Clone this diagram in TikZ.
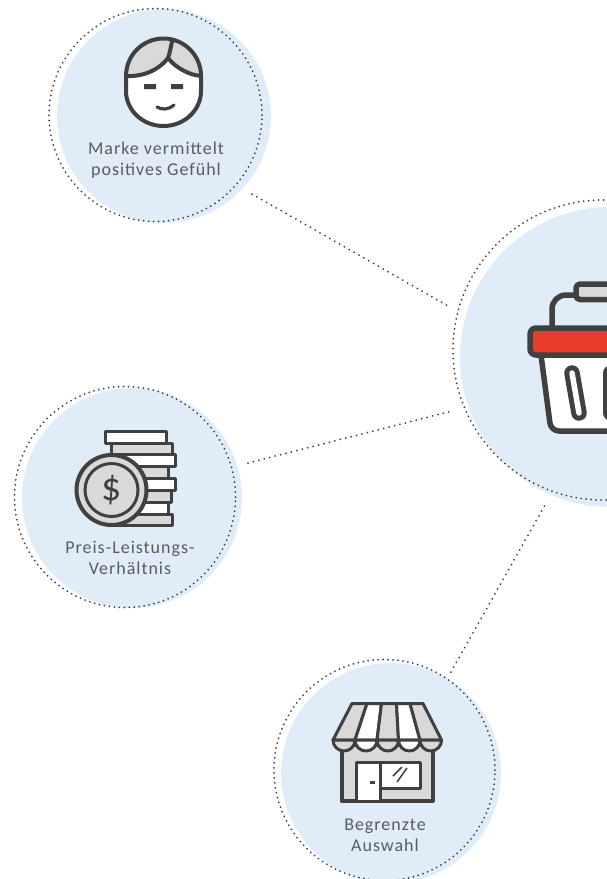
\documentclass[tikz,border=0pt]{standalone}
\usepackage{fontspec}
\usepackage{xcolor}
\setmainfont[LetterSpace=5.5]{Carlito}
\usetikzlibrary{arrows.meta,shapes}
\definecolor{discblue}{HTML}{E1ECF9}
\definecolor{inkgrey}{HTML}{404040}
\definecolor{fillgrey}{HTML}{D9D9D9}
\definecolor{basketred}{HTML}{E83C2D}
\definecolor{labelgrey}{HTML}{5C5C5C}
\tikzset{
disc/.style={shape=circle,fill=discblue,inner sep=0pt,minimum size=#1},
ring/.style={shape=circle,draw=inkgrey,line width=2pt,dash pattern=on 0pt off 5pt,line cap=round,inner sep=0pt,minimum size=#1},
linkdots/.style={draw=inkgrey,line width=2pt,dash pattern=on 0pt off 5.6pt,line cap=round},
icon/.style={draw=inkgrey,line width=4pt,line join=round},
thinicon/.style={draw=inkgrey,line width=3pt,line join=round},
caption/.style={text=labelgrey,font=\fontsize{18}{21}\selectfont,align=center,inner sep=0pt}
}
\begin{document}
\begin{tikzpicture}[x=1pt,y=-1pt]
\useasboundingbox (0,0) rectangle (607,879);
\node[disc=214pt] (faceDisc) at (164,116) {};
\node[ring=213pt] (faceRing) at (155.500,115) {};
\node[disc=220pt] (coinDisc) at (132,498) {};
\node[ring=221pt] (coinRing) at (125,497) {};
\node[disc=220pt] (shopDisc) at (391,773) {};
\node[ring=221pt] (shopRing) at (384.500,770) {};
\node[disc=300pt] (basketDisc) at (610,357) {};
\node[ring=300pt] (basketRing) at (603,350) {};
% links
\coordinate (faceEnd) at (252,194);
\coordinate (coinEnd) at (248,463);
\coordinate (shopEnd) at (451,672);
\coordinate (basketA) at (448,306);
\coordinate (basketB) at (452,411);
\coordinate (basketC) at (545,505);
\draw[linkdots](faceEnd)--(basketA);
\draw[linkdots](coinEnd)--(basketB);
\draw[linkdots](shopEnd)--(basketC);
% face
\fill[white](126,91)--(126,76)arc[start angle=180,end angle=360,radius=37.500]--(201,91)arc[start angle=0,end angle=180,x radius=37.500,y radius=35]--cycle;
\fill[fillgrey](126,76)arc[start angle=180,end angle=360,radius=37.500]..controls (189,75) and (176,68) .. (168,58)..controls (160,69) and (144,77) .. (126,76);
\draw[icon](126,76)..controls (144,77) and (160,69) .. (168,58)..controls (170,52) and (171,47) .. (172,41);
\draw[icon](168,58)..controls (176,68) and (189,75) .. (201,76);
\draw[icon](126,91)--(126,76)arc[start angle=180,end angle=360,radius=37.500]--(201,91)arc[start angle=0,end angle=180,x radius=37.500,y radius=35]--cycle;
\fill[inkgrey](144,84)rectangle(156,89) (171,84)rectangle(183,89);
\draw[thinicon,line width=3.200pt,line cap=round](157,107)..controls (162,110) and (168,110) .. (174,105);
\node[caption] (faceText) at (156,160) {Marke vermittelt\\positives Gefühl};
% coins
\draw[thinicon,fill=white](105.500,431.500)rectangle(166,443);
\draw[thinicon,fill=fillgrey](111,443)rectangle(172,454.500);
\draw[thinicon,fill=white](111,454.500)rectangle(175.500,466);
\draw[thinicon,fill=fillgrey](111,466)rectangle(168,478);
\draw[thinicon,fill=white](111,478)rectangle(175,490);
\draw[thinicon,fill=fillgrey](111,490)rectangle(171,502);
\draw[thinicon,fill=white](111,502)rectangle(168,514);
\draw[thinicon,fill=fillgrey](111,514)rectangle(172,525);
\node[shape=circle,fill=fillgrey,draw=inkgrey,line width=4pt,inner sep=0pt,minimum size=70pt] (coinOuter) at (111.500,490) {};
\node[shape=circle,draw=inkgrey,line width=3pt,inner sep=0pt,minimum size=53pt,text=inkgrey,font=\fontsize{40}{40}\selectfont] (coinInner) at (coinOuter) {\$};
\node[caption] (coinText) at (130,557.500) {Preis-Leistungs-\\Verhältnis};
% shop
\draw[icon,fill=fillgrey](342,745)rectangle(433,801);
\draw[thinicon,fill=white](356,762.500)rectangle(380,801);
\draw[thinicon,fill=white](380,762.500)rectangle(420,788);
\fill[inkgrey](370,781)rectangle(375,784);
\draw[draw=inkgrey,line width=1.500pt](393,776)--(402,767) (397,782)--(407,768);
\draw[thinicon,fill=fillgrey](333,740)--(352,703.500)--(367,703.500)--(355,740)--cycle;
\draw[thinicon,fill=white](355,740)--(367,703.500)--(381.500,703.500)--(377,740)--cycle;
\draw[thinicon,fill=fillgrey](377,740)--(381.500,703.500)--(396.500,703.500)--(398.500,740)--cycle;
\draw[thinicon,fill=white](398.500,740)--(396.500,703.500)--(410,703.500)--(420,740)--cycle;
\draw[thinicon,fill=fillgrey](420,740)--(410,703.500)--(423,703.500)--(441.500,740)--cycle;
\draw[thinicon,fill=fillgrey](333,740)arc[start angle=180,end angle=360,x radius=11,y radius=-11]--cycle;
\draw[thinicon,fill=white](355,740)arc[start angle=180,end angle=360,x radius=11,y radius=-11]--cycle;
\draw[thinicon,fill=fillgrey](377,740)arc[start angle=180,end angle=360,x radius=10.800,y radius=-11]--cycle;
\draw[thinicon,fill=white](398.500,740)arc[start angle=180,end angle=360,x radius=10.800,y radius=-11]--cycle;
\draw[thinicon,fill=fillgrey](420,740)arc[start angle=180,end angle=360,x radius=10.800,y radius=-11]--cycle;
\node[caption] (shopText) at (385,835.500) {Begrenzte\\Auswahl};
% basket
\draw[icon,line width=5.500pt,rounded corners=14pt](552,330)--(552,295)--(580,295);
\draw[icon,line width=5.500pt,fill=fillgrey,rounded corners=4pt](576,284)rectangle(625,299.500);
\draw[icon,line width=5.500pt,fill=white,rounded corners=8pt](541,355)--(551,431)--(665,431)--(675,355);
\draw[icon,line width=5.500pt,fill=basketred,rounded corners=6pt](530,328)rectangle(690,355);
\draw[icon,line width=5pt,double=white,double distance=5.500pt,line cap=round](572,373)--(579,413);
\draw[icon,line width=5pt,double=white,double distance=5.500pt,line cap=round](611,373)--(611,413);
\end{tikzpicture}
\end{document}
